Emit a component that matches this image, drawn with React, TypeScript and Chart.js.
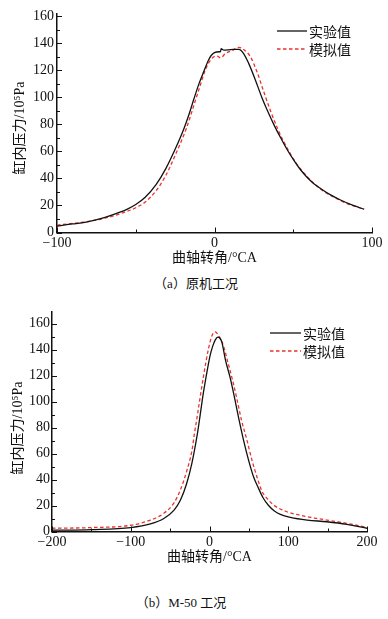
import React, { useEffect, useRef } from "react";
import { Chart, registerables } from "chart.js";

Chart.register(...registerables);

// ---------- Data ----------
// (a) 原机工况
const aMeasuredAngle = [-100, -90, -80, -70, -60, -55, -50, -44, -37, -31, -25, -20, -16, -13, -10, -7, -4, -2, 0, 3, 3.8, 4.2, 6, 9, 12, 15.4, 18.5, 21.7, 26, 30, 34, 38, 42, 46, 50, 54, 58, 62, 68, 74, 80, 88, 95];
const aMeasured = [4.8, 6.3, 8.1, 11, 15, 17.5, 20.7, 26, 35.5, 47, 61.5, 75, 88, 99, 109.5, 118.5, 127, 131, 133, 133.6, 133.6, 135.8, 134.8, 135, 135.3, 135.3, 132.3, 125, 112.6, 100, 89, 79, 70, 61.5, 54, 47.3, 41.8, 37.2, 32, 27.6, 24, 20, 17.2];
const aSimAngle = [-100, -90, -80, -70, -60, -50, -44, -37, -31, -25, -18, -15, -12, -9, -6, -3.6, -0.4, 1.7, 3.8, 7, 11, 15.4, 18.5, 22.8, 27, 31, 35.4, 40, 44, 48, 52, 56, 60, 64, 70, 76, 82, 88, 95];
const aSimulated = [5.5, 6.7, 8.2, 10.5, 13.8, 18.3, 22.5, 31, 42, 57, 76.5, 87, 98, 109, 119.5, 125.5, 129.9, 130.4, 129.1, 132.3, 134.3, 136.8, 135.3, 129.9, 118.7, 105, 90.4, 77, 67, 58.5, 51, 45, 39.8, 35.3, 30, 26, 22.5, 19.8, 17.3];

// (b) M-50 工况
const bMeasuredAngle = [-200, -150, -100, -75, -58, -45, -37, -29, -22.4, -16, -12, -8, -5.5, -2, 0.9, 4, 7.2, 10.5, 13, 15.6, 20.3, 26.8, 32.3, 37, 43.2, 49.6, 55.9, 62.3, 68, 75, 82, 90, 102.7, 124, 149, 174.5, 200];
const bMeasured = [1, 1.5, 3, 5.8, 10, 16.5, 24, 37, 52.5, 73, 89, 106, 115, 127, 135.8, 142.5, 147.3, 149.6, 149, 146, 132, 117, 101.5, 87.5, 70.4, 55, 42.2, 33.2, 26, 20, 16, 13.2, 10.9, 8.8, 7.5, 5.5, 2.5];
const bSimAngle = [-200, -150, -100, -75, -58, -45.5, -37, -28.7, -22.4, -19, -16, -14, -7.5, -1.2, 3, 7.2, 11.4, 17.7, 23, 29.5, 35, 40.5, 47.5, 53.9, 60.2, 66.6, 73, 81.4, 98.3, 124, 149, 174.5, 191.5, 200];
const bSimulated = [2.5, 3, 4.8, 8.8, 14, 21.7, 32, 47, 62, 76, 87, 95, 120, 141, 150.6, 153.7, 151, 143, 131, 116, 101.5, 86, 70.4, 55, 42.2, 31, 25.5, 20.4, 15.2, 11.4, 8.8, 6.3, 4.2, 3.2];

// ---------- Ticks & labels ----------
const yMajorTicks = [0, 20, 40, 60, 80, 100, 120, 140, 160];
const yMinorTicks = [10, 30, 50, 70, 90, 110, 130, 150];
const aXMajorTicks = [-100, 0, 100];
const aXMinorTicks = [-50, 50];
const bXMajorTicks = [-200, -100, 0, 100, 200];
const bXMinorTicks = [-150, -50, 50, 150];
const seriesLabels = ["实验值", "模拟值"];
const yTitle = "缸内压力/10⁵Pa";
const xTitle = "曲轴转角/°CA";
const captions = ["（a）原机工况", "（b）M-50 工况"];

const INK = "#111";
const RED = "#e8332c";
const DASH = [3.5, 2.5];
const NUM_FONT = "'Liberation Serif', 'Times New Roman', serif";
const TITLE_FONT = "14px 'Liberation Serif', 'Noto Sans CJK SC', sans-serif";

type PanelSpec = {
  top: number;
  height: number;
  padRight: number;
  padTop: number;
  yAxisWidth: number;
  xAxisHeight: number;
  xMin: number;
  xMax: number;
  yMax: number;
  xMajor: number[];
  xMinor: number[];
  mx: number[];
  my: number[];
  sx: number[];
  sy: number[];
  yLabelPad: number;
  xLabelPad: number;
  yTitleX: number;
  yTitleY: number;
  xTitleY: number;
};

const panelA: PanelSpec = {
  top: 0, height: 270, padRight: 16, padTop: 14, yAxisWidth: 57, xAxisHeight: 37.5,
  xMin: -100, xMax: 100, yMax: 161.5, xMajor: aXMajorTicks, xMinor: aXMinorTicks,
  mx: aMeasuredAngle, my: aMeasured, sx: aSimAngle, sy: aSimulated,
  yLabelPad: 3, xLabelPad: 2, yTitleX: 20, yTitleY: 128, xTitleY: 258,
};

const panelB: PanelSpec = {
  top: 300, height: 270, padRight: 21, padTop: 12, yAxisWidth: 52, xAxisHeight: 38.5,
  xMin: -200, xMax: 200, yMax: 169, xMajor: bXMajorTicks, xMinor: bXMinorTicks,
  mx: bMeasuredAngle, my: bMeasured, sx: bSimAngle, sy: bSimulated,
  yLabelPad: 2, xLabelPad: 2, yTitleX: 18, yTitleY: 128, xTitleY: 257,
};

const fmt = (v: number | string) => {
  const n = Number(v);
  return n < 0 ? "\u2212" + Math.abs(n) : String(n);
};

function makeDecor(spec: PanelSpec) {
  return {
    id: "axisDecor",
    afterDraw(chart: any) {
      const { ctx, chartArea: ca } = chart;
      const xs = chart.scales.x;
      const ys = chart.scales.y;
      ctx.save();
      ctx.strokeStyle = INK;
      ctx.lineWidth = 1;
      const yTick = (v: number, len: number) => {
        const py = Math.round(ys.getPixelForValue(v)) + 0.5;
        ctx.beginPath();
        ctx.moveTo(ca.left, py);
        ctx.lineTo(ca.left + len, py);
        ctx.stroke();
      };
      const xTick = (v: number, len: number) => {
        const px = Math.round(xs.getPixelForValue(v)) + 0.5;
        ctx.beginPath();
        ctx.moveTo(px, ca.bottom);
        ctx.lineTo(px, ca.bottom - len);
        ctx.stroke();
      };
      yMajorTicks.forEach((v) => yTick(v, 5));
      yMinorTicks.forEach((v) => yTick(v, 3));
      spec.xMajor.forEach((v) => xTick(v, 5));
      spec.xMinor.forEach((v) => xTick(v, 3));

      ctx.fillStyle = INK;
      ctx.font = TITLE_FONT;
      ctx.textAlign = "center";
      ctx.textBaseline = "middle";
      ctx.fillText(xTitle, (ca.left + ca.right) / 2, spec.xTitleY);
      ctx.translate(spec.yTitleX, spec.yTitleY);
      ctx.rotate(-Math.PI / 2);
      ctx.fillText(yTitle, 0, 0);
      ctx.restore();
    },
  };
}

function Panel({ spec }: { spec: PanelSpec }) {
  const ref = useRef<HTMLCanvasElement | null>(null);
  useEffect(() => {
    if (!ref.current) return;
    const tickFont = { family: NUM_FONT, size: 14 };
    const chart = new Chart(ref.current, {
      type: "line",
      data: {
        datasets: [
          {
            label: seriesLabels[0],
            data: spec.mx.map((x, i) => ({ x, y: spec.my[i] })),
            borderColor: INK,
            borderWidth: 1.3,
            pointRadius: 0,
            fill: false,
            cubicInterpolationMode: "monotone",
          },
          {
            label: seriesLabels[1],
            data: spec.sx.map((x, i) => ({ x, y: spec.sy[i] })),
            borderColor: RED,
            borderWidth: 1.3,
            borderDash: DASH,
            pointRadius: 0,
            fill: false,
            cubicInterpolationMode: "monotone",
          },
        ],
      },
      options: {
        animation: false,
        responsive: true,
        maintainAspectRatio: false,
        layout: { padding: { left: 0, right: spec.padRight, top: spec.padTop, bottom: 0 } },
        plugins: { legend: { display: false }, tooltip: { enabled: false }, title: { display: false } },
        scales: {
          x: {
            type: "linear",
            min: spec.xMin,
            max: spec.xMax,
            afterBuildTicks: (s: any) => {
              s.ticks = spec.xMajor.map((v) => ({ value: v }));
            },
            afterFit: (s: any) => {
              s.height = spec.xAxisHeight;
            },
            grid: { display: false, drawTicks: false },
            border: { display: true, color: INK, width: 1.5 },
            ticks: {
              autoSkip: false,
              maxRotation: 0,
              padding: spec.xLabelPad,
              color: INK,
              font: tickFont,
              callback: (v: any) => fmt(v),
            },
          },
          y: {
            type: "linear",
            min: 0,
            max: spec.yMax,
            afterBuildTicks: (s: any) => {
              s.ticks = yMajorTicks.map((v) => ({ value: v }));
            },
            afterFit: (s: any) => {
              s.width = spec.yAxisWidth;
            },
            grid: { display: false, drawTicks: false },
            border: { display: true, color: INK, width: 1.5 },
            ticks: {
              autoSkip: false,
              padding: spec.yLabelPad,
              color: INK,
              font: tickFont,
              callback: (v: any) => fmt(v),
            },
          },
        },
      },
      plugins: [makeDecor(spec)],
    } as any);
    return () => chart.destroy();
  }, [spec]);
  return (
    <div style={{ position: "absolute", left: 0, top: spec.top, width: 388, height: spec.height }}>
      <canvas ref={ref} />
    </div>
  );
}

function LegendRow({ x, y, textX, label, dashed }: { x: number; y: number; textX: number; label: string; dashed: boolean }) {
  const w = textX - x - 2;
  return (
    <div style={{ position: "absolute", left: x, top: y - 10, height: 20, display: "flex", alignItems: "center" }}>
      <svg width={w} height={4} style={{ display: "block" }}>
        <line
          x1={0}
          y1={2}
          x2={w}
          y2={2}
          stroke={dashed ? RED : INK}
          strokeWidth={1.3}
          strokeDasharray={dashed ? DASH.join(" ") : undefined}
        />
      </svg>
      <span style={{ marginLeft: 2, font: "14px 'Noto Sans CJK SC', sans-serif", lineHeight: "20px", color: INK, whiteSpace: "nowrap" }}>
        {label}
      </span>
    </div>
  );
}

function Caption({ text, cx, cy }: { text: string; cx: number; cy: number }) {
  return (
    <div
      style={{
        position: "absolute",
        left: cx - 150,
        top: cy - 10,
        width: 300,
        lineHeight: "20px",
        textAlign: "center",
        font: "13px 'Liberation Serif', 'Noto Sans CJK SC', serif",
        color: INK,
        whiteSpace: "pre",
      }}
    >
      {text}
    </div>
  );
}

export default function App() {
  return (
    <div style={{ position: "absolute", left: 0, top: 0, width: 388, height: 619, background: "#fff", overflow: "hidden" }}>
      <Panel spec={panelA} />
      <Panel spec={panelB} />
      <LegendRow x={277} y={31} textX={309} label={seriesLabels[0]} dashed={false} />
      <LegendRow x={277} y={49} textX={309} label={seriesLabels[1]} dashed={true} />
      <LegendRow x={270} y={333} textX={303} label={seriesLabels[0]} dashed={false} />
      <LegendRow x={270} y={351} textX={303} label={seriesLabels[1]} dashed={true} />
      <Caption text={captions[0]} cx={196} cy={283} />
      <Caption text={captions[1]} cx={181} cy={602} />
    </div>
  );
}
